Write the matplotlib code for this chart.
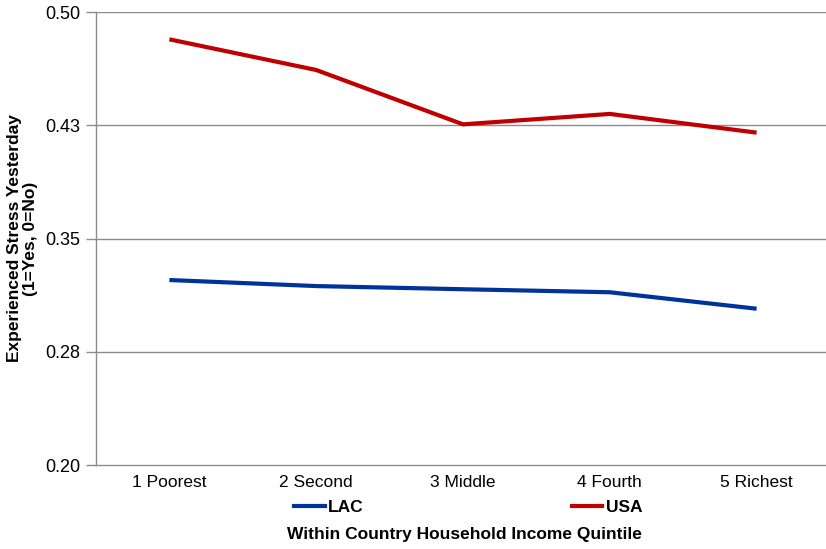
import matplotlib
matplotlib.use("Agg")
import matplotlib.pyplot as plt
from matplotlib.lines import Line2D

plt.rcParams['font.family'] = ['Liberation Sans', 'DejaVu Sans']

quintiles = ["1 Poorest", "2 Second", "3 Middle", "4 Fourth", "5 Richest"]
lac = [0.3225, 0.3185, 0.3164, 0.3144, 0.3035]
usa = [0.4819, 0.4616, 0.4256, 0.4325, 0.4201]
yticks = [0.20, 0.275, 0.35, 0.425, 0.50]
ytick_labels = ["0.20", "0.28", "0.35", "0.43", "0.50"]

lac_color = "#003399"
usa_color = "#C00000"
grid_color = "#8C8C8C"

fig = plt.figure(figsize=(8.26, 5.49), dpi=100)
ax = fig.add_axes([96 / 826, 1 - 465 / 549, (830 - 96) / 826, (465 - 12) / 549])

x = [i + 0.5 for i in range(len(quintiles))]
ax.plot(x, lac, color=lac_color, lw=3, solid_capstyle='butt', zorder=3)
ax.plot(x, usa, color=usa_color, lw=3, solid_capstyle='butt', zorder=3)

ax.set_xlim(0, len(quintiles))
ax.set_ylim(0.20, 0.50)
ax.set_xticks(x)
ax.set_xticklabels(quintiles, fontsize=12.5)
ax.set_yticks(yticks)
ax.set_yticklabels(ytick_labels, fontsize=13)
ax.tick_params(axis='x', length=0, pad=7)
ax.tick_params(axis='y', length=7, width=1, color=grid_color, pad=4)

for y in yticks[1:]:
    ax.axhline(y, color=grid_color, lw=1, zorder=1)

for side in ("top", "right"):
    ax.spines[side].set_visible(False)
for side in ("left", "bottom"):
    ax.spines[side].set_color(grid_color)
    ax.spines[side].set_linewidth(1)

ax.set_ylabel("Experienced Stress Yesterday\n(1=Yes, 0=No)", fontsize=12.5,
              fontweight='bold', linespacing=1.05)
ax.yaxis.set_label_coords(-0.079, 0.5)

handles = [Line2D([], [], color=lac_color, lw=3),
           Line2D([], [], color=usa_color, lw=3)]
fig.legend(handles, ["LAC", "USA"], loc='center', bbox_to_anchor=(0.567, 1 - 507 / 549),
           ncol=2, frameon=False, prop={'size': 12.5, 'weight': 'bold'},
           handlelength=1.75, handletextpad=0.2, columnspacing=12.0)

fig.text(0.562, 1 - 535 / 549, "Within Country Household Income Quintile",
         ha='center', va='center', fontsize=12.5, fontweight='bold')

fig.savefig("out.png", dpi=100)
